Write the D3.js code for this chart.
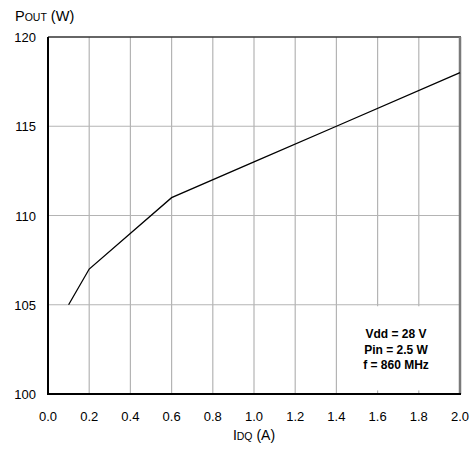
<!DOCTYPE html>
<html>
<head>
<meta charset="utf-8">
<script src="https://cdn.jsdelivr.net/npm/d3@7"></script>
<style>
  body { margin: 0; background: white; }
  text { font-family: "Liberation Sans", Arial, sans-serif; }
</style>
</head>
<body>
<script>
// data
let idq = [0.1, 0.2, 0.6, 1.0, 1.4, 2.0];
let pout = [105, 107, 111, 113, 115, 118];
let xTicks = [0, 0.2, 0.4, 0.6, 0.8, 1.0, 1.2, 1.4, 1.6, 1.8, 2.0];
let yTicks = [100, 105, 110, 115, 120];
let notes = ["Vdd = 28 V", "Pin = 2.5 W", "f = 860 MHz"];

let plotL = 48, plotR = 460, plotT = 37, plotB = 394;

let x = d3.scaleLinear().domain([0, 2]).range([plotL, plotR]);
let y = d3.scaleLinear().domain([100, 120]).range([plotB, plotT]);

let svg = d3.select("body")
  .append("svg")
    .attr("width", 476)
    .attr("height", 450);

// grid
svg.append("g")
  .selectAll("line")
  .data(xTicks.slice(1, -1))
  .join("line")
    .attr("x1", d => x(d)).attr("x2", d => x(d))
    .attr("y1", plotT).attr("y2", plotB)
    .attr("stroke", "#b4b4b4").attr("stroke-width", 1.2);
svg.append("g")
  .selectAll("line")
  .data(yTicks.slice(1, -1))
  .join("line")
    .attr("x1", plotL).attr("x2", plotR)
    .attr("y1", d => y(d)).attr("y2", d => y(d))
    .attr("stroke", "#b4b4b4").attr("stroke-width", 1.2);

// white note box hides the grid under it
svg.append("rect")
  .attr("x", x(1.4) + 1.5)
  .attr("y", y(105) + 1.5)
  .attr("width", plotR - x(1.4) - 2)
  .attr("height", y(100.2) - y(105) - 1.5)
  .attr("fill", "white");

svg.append("g")
  .attr("font-size", 12)
  .attr("font-weight", "bold")
  .attr("text-anchor", "middle")
  .selectAll("text")
  .data(notes)
  .join("text")
    .attr("x", 396)
    .attr("y", (d, i) => 338 + i * 15.5)
    .text(d => d);

// frame
svg.append("line").attr("x1", plotL).attr("x2", plotR + 1).attr("y1", plotT).attr("y2", plotT)
  .attr("stroke", "#333").attr("stroke-width", 1.5);
svg.append("line").attr("x1", plotR).attr("x2", plotR).attr("y1", plotT).attr("y2", plotB)
  .attr("stroke", "#7a7a7a").attr("stroke-width", 2.5);
svg.append("line").attr("x1", plotL).attr("x2", plotL).attr("y1", plotT).attr("y2", plotB + 1)
  .attr("stroke", "black").attr("stroke-width", 2);
svg.append("line").attr("x1", plotL - 1).attr("x2", plotR + 1).attr("y1", plotB).attr("y2", plotB)
  .attr("stroke", "black").attr("stroke-width", 2);

// curve
let line = d3.line()
  .x((d, i) => x(idq[i]))
  .y(d => y(d));
svg.append("path")
  .attr("d", line(pout))
  .attr("fill", "none")
  .attr("stroke", "black")
  .attr("stroke-width", 1.3);

// tick labels
svg.append("g")
  .attr("font-size", 13)
  .attr("text-anchor", "middle")
  .selectAll("text")
  .data(xTicks)
  .join("text")
    .attr("x", d => x(d))
    .attr("y", 421)
    .text(d => d.toFixed(1));
svg.append("g")
  .attr("font-size", 13)
  .attr("text-anchor", "end")
  .selectAll("text")
  .data(yTicks)
  .join("text")
    .attr("x", 36)
    .attr("y", d => y(d) + 5)
    .text(d => d);

// axis titles
let xt = svg.append("text")
  .attr("x", 254).attr("y", 440)
  .attr("font-size", 14)
  .attr("text-anchor", "middle");
xt.append("tspan").text("I");
xt.append("tspan").attr("font-size", 10.5).text("DQ");
xt.append("tspan").text(" (A)");

let yt = svg.append("text")
  .attr("x", 15).attr("y", 21)
  .attr("font-size", 14.5);
yt.append("tspan").text("P");
yt.append("tspan").attr("font-size", 10.5).text("OUT");
yt.append("tspan").text(" (W)");
</script>
</body>
</html>
